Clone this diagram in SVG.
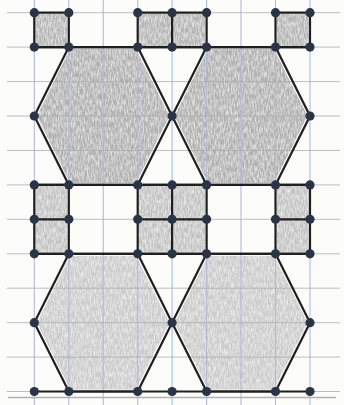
<svg xmlns="http://www.w3.org/2000/svg" width="344" height="405" viewBox="0 0 344 405">
  <style>
    .bg { fill: #fcfcfb; }
    .vgrid { stroke: #b4b8dc; stroke-width: 1.1; }
    .hgrid { stroke: #a9a9a9; stroke-width: 1; stroke-opacity: 0.75; }
    .hexA { fill: #b0b0b0; }
    .hexB { fill: #cbcbcb; }
    .sqA { fill: #b4b4b4; }
    .sqB { fill: #c2c2c2; }
    .edge { fill: none; stroke: #1f1f1f; stroke-width: 2.2; stroke-linejoin: round; stroke-linecap: round; }
    .dot { fill: #2b3444; }
    .scan { stroke: #b0b0b0; stroke-width: 1.6; }
  </style>
  <defs>
    <filter id="pencil" x="0" y="0" width="1" height="1">
      <feTurbulence type="fractalNoise" baseFrequency="0.7 0.18" numOctaves="3" seed="7" result="n"/>
      <feColorMatrix in="n" type="matrix" values="0 0 0 0 1  0 0 0 0 1  0 0 0 0 1  1.3 0 0 0 -0.45" result="w"/>
      <feComposite in="w" in2="SourceGraphic" operator="in" result="ws"/>
      <feMerge><feMergeNode in="SourceGraphic"/><feMergeNode in="ws"/></feMerge>
    </filter>
  </defs>

  <rect class="bg" x="0" y="0" width="344" height="405"/>

  <!-- shading -->
  <g id="shading" filter="url(#pencil)">
    <g id="hex-top-left"><polygon class="hexA" points="70,49 136,49 169.5,116 136,183 70,183 37,116"/></g>
    <g id="hex-top-right"><polygon class="hexA" points="208,49 274,49 307.5,116 274,183 208,183 174.5,116"/></g>
    <g id="hex-bottom-left"><polygon class="hexB" points="70,256 136,256 169.5,322.7 136,389.5 70,389.5 37,322.7"/></g>
    <g id="hex-bottom-right"><polygon class="hexB" points="208,256 274,256 307.5,322.7 274,389.5 208,389.5 174.5,322.7"/></g>
    <g id="squares-top">
      <rect class="sqA" x="35.5" y="14" width="32" height="32"/>
      <rect class="sqA" x="139" y="14" width="66" height="32"/>
      <rect class="sqA" x="276.7" y="14" width="32" height="32"/>
    </g>
    <g id="squares-middle">
      <rect class="sqB" x="35.5" y="186" width="32" height="66.5"/>
      <rect class="sqB" x="139" y="186" width="66" height="66.5"/>
      <rect class="sqB" x="276.7" y="186" width="32" height="66.5"/>
    </g>
  </g>

  <!-- grid paper -->
  <g id="grid">
    <g class="vgrid">
      <line x1="34.3" y1="0" x2="34.3" y2="405"/>
      <line x1="68.8" y1="0" x2="68.8" y2="405"/>
      <line x1="103.2" y1="0" x2="103.2" y2="405"/>
      <line x1="137.7" y1="0" x2="137.7" y2="405"/>
      <line x1="172.1" y1="0" x2="172.1" y2="405"/>
      <line x1="206.6" y1="0" x2="206.6" y2="405"/>
      <line x1="241.0" y1="0" x2="241.0" y2="405"/>
      <line x1="275.5" y1="0" x2="275.5" y2="405"/>
      <line x1="310.0" y1="0" x2="310.0" y2="405"/>
    </g>
    <g class="hgrid">
      <line x1="7" y1="12.7" x2="340" y2="12.7"/>
      <line x1="7" y1="47.1" x2="340" y2="47.1"/>
      <line x1="7" y1="81.6" x2="340" y2="81.6"/>
      <line x1="7" y1="116.0" x2="340" y2="116.0"/>
      <line x1="7" y1="150.5" x2="340" y2="150.5"/>
      <line x1="7" y1="184.9" x2="340" y2="184.9"/>
      <line x1="7" y1="219.3" x2="340" y2="219.3"/>
      <line x1="7" y1="253.8" x2="340" y2="253.8"/>
      <line x1="7" y1="288.2" x2="340" y2="288.2"/>
      <line x1="7" y1="322.7" x2="340" y2="322.7"/>
      <line x1="7" y1="357.1" x2="340" y2="357.1"/>
      <line x1="7" y1="391.5" x2="340" y2="391.5"/>
    </g>
    <line class="scan" x1="8" y1="397.5" x2="336" y2="397.5"/>
  </g>

  <!-- outlines -->
  <g id="connectors">
    <g class="edge">
      <polygon points="68.8,47.1 137.7,47.1 172.1,116.0 137.7,184.9 68.8,184.9 34.3,116.0"/>
      <polygon points="206.6,47.1 275.5,47.1 310.0,116.0 275.5,184.9 206.6,184.9 172.1,116.0"/>
      <polygon points="68.8,253.8 137.7,253.8 172.1,322.7 137.7,391.5 68.8,391.5 34.3,322.7"/>
      <polygon points="206.6,253.8 275.5,253.8 310.0,322.7 275.5,391.5 206.6,391.5 172.1,322.7"/>
      <rect x="34.3" y="12.7" width="34.5" height="34.4"/>
      <rect x="137.7" y="12.7" width="68.9" height="34.4"/>
      <line x1="172.1" y1="12.7" x2="172.1" y2="47.1"/>
      <rect x="275.5" y="12.7" width="34.5" height="34.4"/>
      <rect x="34.3" y="184.9" width="34.5" height="68.9"/>
      <line x1="34.3" y1="219.3" x2="68.8" y2="219.3"/>
      <rect x="137.7" y="184.9" width="68.9" height="68.9"/>
      <line x1="137.7" y1="219.3" x2="206.6" y2="219.3"/>
      <line x1="172.1" y1="184.9" x2="172.1" y2="253.8"/>
      <rect x="275.5" y="184.9" width="34.5" height="68.9"/>
      <line x1="275.5" y1="219.3" x2="310.0" y2="219.3"/>
      <line x1="34.3" y1="391.5" x2="310.0" y2="391.5"/>
      <line x1="34.3" y1="47.1" x2="310.0" y2="47.1"/>
      <line x1="34.3" y1="184.9" x2="310.0" y2="184.9"/>
      <line x1="34.3" y1="253.8" x2="310.0" y2="253.8"/>
    </g>
  </g>

  <!-- vertices -->
  <g id="vertices" class="dot">
    <circle cx="34.3" cy="12.7" r="4.6"/><circle cx="68.8" cy="12.7" r="4.6"/><circle cx="137.7" cy="12.7" r="4.6"/><circle cx="172.1" cy="12.7" r="4.6"/><circle cx="206.6" cy="12.7" r="4.6"/><circle cx="275.5" cy="12.7" r="4.6"/><circle cx="310.0" cy="12.7" r="4.6"/>
    <circle cx="34.3" cy="47.1" r="4.6"/><circle cx="68.8" cy="47.1" r="4.6"/><circle cx="137.7" cy="47.1" r="4.6"/><circle cx="172.1" cy="47.1" r="4.6"/><circle cx="206.6" cy="47.1" r="4.6"/><circle cx="275.5" cy="47.1" r="4.6"/><circle cx="310.0" cy="47.1" r="4.6"/>
    <circle cx="34.3" cy="116.0" r="4.6"/><circle cx="172.1" cy="116.0" r="4.6"/><circle cx="310.0" cy="116.0" r="4.6"/>
    <circle cx="34.3" cy="184.9" r="4.6"/><circle cx="68.8" cy="184.9" r="4.6"/><circle cx="137.7" cy="184.9" r="4.6"/><circle cx="172.1" cy="184.9" r="4.6"/><circle cx="206.6" cy="184.9" r="4.6"/><circle cx="275.5" cy="184.9" r="4.6"/><circle cx="310.0" cy="184.9" r="4.6"/>
    <circle cx="34.3" cy="219.3" r="4.6"/><circle cx="68.8" cy="219.3" r="4.6"/><circle cx="137.7" cy="219.3" r="4.6"/><circle cx="172.1" cy="219.3" r="4.6"/><circle cx="206.6" cy="219.3" r="4.6"/><circle cx="275.5" cy="219.3" r="4.6"/><circle cx="310.0" cy="219.3" r="4.6"/>
    <circle cx="34.3" cy="253.8" r="4.6"/><circle cx="68.8" cy="253.8" r="4.6"/><circle cx="137.7" cy="253.8" r="4.6"/><circle cx="172.1" cy="253.8" r="4.6"/><circle cx="206.6" cy="253.8" r="4.6"/><circle cx="275.5" cy="253.8" r="4.6"/><circle cx="310.0" cy="253.8" r="4.6"/>
    <circle cx="34.3" cy="322.7" r="4.6"/><circle cx="172.1" cy="322.7" r="4.6"/><circle cx="310.0" cy="322.7" r="4.6"/>
    <circle cx="34.3" cy="391.5" r="4.6"/><circle cx="68.8" cy="391.5" r="4.6"/><circle cx="137.7" cy="391.5" r="4.6"/><circle cx="172.1" cy="391.5" r="4.6"/><circle cx="206.6" cy="391.5" r="4.6"/><circle cx="275.5" cy="391.5" r="4.6"/><circle cx="310.0" cy="391.5" r="4.6"/>
  </g>
</svg>
